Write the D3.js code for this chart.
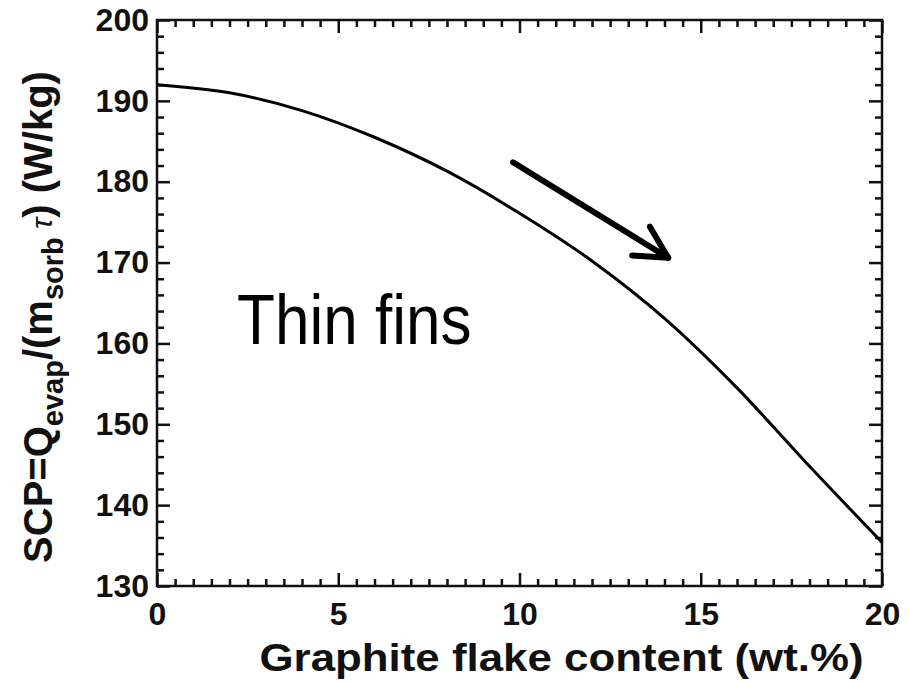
<!DOCTYPE html>
<meta charset="utf-8">

<!-- Load d3.js -->
<script src="https://d3js.org/d3.v7.min.js"></script>

<style>
    body {
        margin: 0;
        background: #fff;
    }

    #my_dataviz text {
        font-family: Arial, "Liberation Sans", sans-serif;
    }
</style>

<div id="my_dataviz"></div>

<script>

    // data: graphite content (wt.%) vs SCP (W/kg)
    var graphite = [0, 2, 4, 6, 8, 10, 12, 14, 16, 18, 20];
    var scp = [192.0, 191.0, 188.8, 185.5, 181.3, 176.1, 170.2, 163.1, 154.5, 144.8, 135.4];

    // tick values
    var xTicks = [0, 5, 10, 15, 20];
    var yTicks = [130, 140, 150, 160, 170, 180, 190, 200];

    // annotation arrow (start and end in data units)
    var arrowFrom = [9.82, 182.4];
    var arrowTo = [14.1, 170.6];

    // set the dimensions and margins of the graph
    var margin = { top: 20, right: 28, bottom: 99, left: 157 },
        width = 910 - margin.left - margin.right,
        height = 685 - margin.top - margin.bottom;

    var svg = d3.select("#my_dataviz")
        .append("svg")
        .attr("width", 910)
        .attr("height", 685)
        .append("g")
        .attr("transform", "translate(" + margin.left + "," + margin.top + ")");

    var x = d3.scaleLinear().domain([0, 20]).range([0, width]);
    var y = d3.scaleLinear().domain([130, 200]).range([height, 0]);

    // minor ticks every 0.5 on x, every 2 on y
    var xMinor = d3.range(0, 20.01, 0.5).filter(function (v) { return v % 5 !== 0; });
    var yMinor = d3.range(130, 200.01, 2).filter(function (v) { return v % 10 !== 0; });

    function styleAxis(g) {
        g.select(".domain").remove();
        g.selectAll(".tick line").attr("stroke", "#111").attr("stroke-width", 2.5);
        g.selectAll(".tick text")
            .attr("fill", "#111")
            .style("font-size", "32px")
            .style("font-weight", "bold");
    }

    // bottom axis (major + minor)
    svg.append("g")
        .attr("transform", "translate(0," + height + ")")
        .call(d3.axisBottom(x).tickValues(xTicks).tickSize(-13).tickPadding(16).tickFormat(d3.format("d")))
        .call(styleAxis);
    svg.append("g")
        .attr("transform", "translate(0," + height + ")")
        .call(d3.axisBottom(x).tickValues(xMinor).tickSize(-7).tickFormat(""))
        .call(styleAxis);

    // top axis (ticks only)
    svg.append("g")
        .call(d3.axisTop(x).tickValues(xTicks).tickSize(-13).tickFormat(""))
        .call(styleAxis);
    svg.append("g")
        .call(d3.axisTop(x).tickValues(xMinor).tickSize(-7).tickFormat(""))
        .call(styleAxis);

    // left axis
    svg.append("g")
        .call(d3.axisLeft(y).tickValues(yTicks).tickSize(-13).tickPadding(8))
        .call(styleAxis);
    svg.append("g")
        .call(d3.axisLeft(y).tickValues(yMinor).tickSize(-7).tickFormat(""))
        .call(styleAxis);

    // right axis (ticks only)
    svg.append("g")
        .attr("transform", "translate(" + width + ",0)")
        .call(d3.axisRight(y).tickValues(yTicks).tickSize(-13).tickFormat(""))
        .call(styleAxis);
    svg.append("g")
        .attr("transform", "translate(" + width + ",0)")
        .call(d3.axisRight(y).tickValues(yMinor).tickSize(-7).tickFormat(""))
        .call(styleAxis);

    // frame
    svg.append("rect")
        .attr("width", width)
        .attr("height", height)
        .attr("fill", "none")
        .attr("stroke", "#111")
        .attr("stroke-width", 2.5);

    // the curve
    var line = d3.line()
        .x(function (d, i) { return x(graphite[i]); })
        .y(function (d) { return y(d); })
        .curve(d3.curveMonotoneX);

    svg.append("path")
        .datum(scp)
        .attr("fill", "none")
        .attr("stroke", "#000")
        .attr("stroke-width", 3)
        .attr("d", line);

    // arrow
    var ax0 = x(arrowFrom[0]), ay0 = y(arrowFrom[1]),
        ax1 = x(arrowTo[0]), ay1 = y(arrowTo[1]);
    var back = Math.atan2(ay0 - ay1, ax0 - ax1),
        wing = 36, spread = 28 * Math.PI / 180;
    var arrow = svg.append("g")
        .attr("stroke", "#000")
        .attr("stroke-width", 6)
        .attr("stroke-linecap", "round")
        .attr("fill", "none");
    arrow.append("line")
        .attr("x1", ax0).attr("y1", ay0)
        .attr("x2", ax1).attr("y2", ay1);
    [-spread, spread].forEach(function (s) {
        arrow.append("line")
            .attr("x1", ax1).attr("y1", ay1)
            .attr("x2", ax1 + wing * Math.cos(back + s))
            .attr("y2", ay1 + wing * Math.sin(back + s));
    });

    // "Thin fins" annotation (a little taller than wide, as in the figure)
    svg.append("text")
        .attr("transform", "translate(" + x(2.21) + "," + y(159.9) + ") scale(1,1.13)")
        .style("font-size", "62px")
        .attr("fill", "#000")
        .text("Thin fins");

    // x axis title, stretched a little wider than its height as in the figure
    svg.append("text")
        .attr("x", width / 2 + 42)
        .attr("y", height + 85)
        .attr("text-anchor", "middle")
        .attr("textLength", 604)
        .attr("lengthAdjust", "spacingAndGlyphs")
        .attr("fill", "#111")
        .style("font-size", "38px")
        .style("font-weight", "bold")
        .text("Graphite flake content (wt.%)");

    // y axis title with subscripts
    var ylab = svg.append("text")
        .attr("transform", "translate(" + (-105) + "," + (height / 2 + 14) + ") rotate(-90)")
        .attr("text-anchor", "middle")
        .attr("fill", "#111")
        .style("font-size", "40px")
        .style("font-weight", "bold");
    ylab.append("tspan").text("SCP=Q");
    ylab.append("tspan").attr("dy", 11).style("font-size", "29px").text("evap");
    ylab.append("tspan").attr("dy", -11).text("/(m");
    ylab.append("tspan").attr("dy", 11).style("font-size", "29px").text("sorb");
    ylab.append("tspan").attr("dy", -11).style("font-size", "30px").style("font-weight", "normal")
        .style("font-style", "italic").text(" \u03c4");
    ylab.append("tspan").text(") (W/kg)");

</script>
